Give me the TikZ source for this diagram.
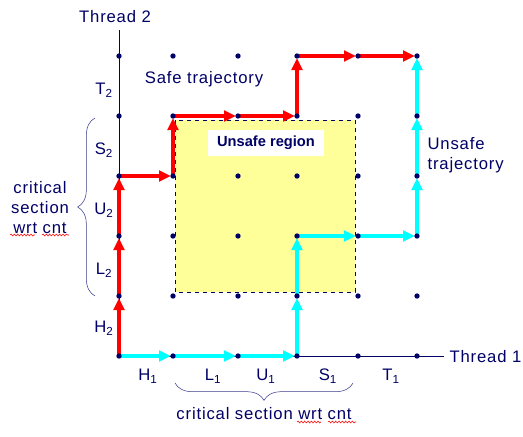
\documentclass[tikz,border=0pt]{standalone}
\usepackage{fontspec}
\setmainfont{Liberation Sans}
\usetikzlibrary{arrows.meta,decorations.pathreplacing,decorations.pathmorphing}
\definecolor{navy}{HTML}{000066}
\definecolor{bracecol}{HTML}{3B3B8F}
\definecolor{unsafecol}{HTML}{FFFF99}
\definecolor{aqua}{HTML}{00FFFF}
\tikzset{
  lbl/.style={text=navy,font=\fontsize{12.5}{15}\selectfont\addfontfeatures{LetterSpace=5},inner sep=1pt},
  safepath/.style={red,line width=3pt,shorten >=1.5pt,-{Triangle[length=9pt,width=8pt]}},
  unsafepath/.style={aqua,line width=3pt,shorten >=1.5pt,-{Triangle[length=9pt,width=8pt]}},
  critbrace/.style={bracecol,thin,decorate,decoration={brace,amplitude=13pt}},
  squiggle/.style={red,line width=0.4pt,decorate,decoration={snake,amplitude=0.7pt,segment length=2.5pt}}
}
\begin{document}
\begin{tikzpicture}[x=0.75pt,y=-0.75pt]
    \useasboundingbox (0,0) rectangle (523,436);

    % Grid points
    \foreach \x [count=\i from 0] in {119,173,238,297,358,417}
      \foreach \y [count=\j from 0] in {356,296,236,176,116,56}
        \coordinate (p\i\j) at (\x,\y);

    % Unsafe region
    \draw[navy,dashed,fill=unsafecol] (175,120) rectangle (355,292);
    \node[fill=white,text=navy,font=\fontsize{11}{13}\selectfont\bfseries,
          minimum width=87pt,minimum height=19pt] (region) at (266,143) {Unsafe region};

    % Axes
    \coordinate (xend) at (444,356);
    \coordinate (yend) at (119,30);
    \draw[navy] (p00) -- (xend);
    \draw[navy] (p00) -- (yend);
    \node[lbl,anchor=west] (thread1) at (448,357) {Thread 1};
    \node[lbl] (thread2) at (115,17) {Thread 2};

    % Safe trajectory
    \foreach \a/\b in {00/01,01/02,02/03,03/13,13/14,14/24,24/34,34/35,35/45,45/55}
      \draw[safepath] (p\a) -- (p\b);

    % Unsafe trajectory
    \foreach \a/\b in {00/10,10/20,20/30,30/31,31/32,32/42,42/52,52/53,53/54,54/55}
      \draw[unsafepath] (p\a) -- (p\b);

    % Dots
    \foreach \i in {0,...,5}
      \foreach \j in {0,...,5}
        \fill[navy] (p\i\j) circle (2pt);

    % Instruction labels
    \node[lbl] (h1) at (148,376) {H\textsubscript{1}};
    \node[lbl] (l1) at (213,376) {L\textsubscript{1}};
    \node[lbl] (u1) at (266,376) {U\textsubscript{1}};
    \node[lbl] (s1) at (328,376) {S\textsubscript{1}};
    \node[lbl] (t1) at (391,376) {T\textsubscript{1}};
    \node[lbl] (h2) at (104,328) {H\textsubscript{2}};
    \node[lbl] (l2) at (104,270) {L\textsubscript{2}};
    \node[lbl] (u2) at (104,210) {U\textsubscript{2}};
    \node[lbl] (s2) at (104,150) {S\textsubscript{2}};
    \node[lbl] (t2) at (104,90) {T\textsubscript{2}};

    % Critical sections
    \draw[critbrace] (95,296) -- (95,118);
    \draw[critbrace] (353,383) -- (175,383);
    \node[lbl,align=center] (critleft) at (40,208) {critical\\section\\wrt cnt};
    \node[lbl] (critbottom) at (264,414) {critical section wrt cnt};
    \draw[squiggle] (10,235) -- (35,235);
    \draw[squiggle] (42,235) -- (69,235);
    \draw[squiggle] (297,422) -- (321,422);
    \draw[squiggle] (328,422) -- (356,422);

    % Trajectory names
    \node[lbl] (safename) at (204,79) {Safe trajectory};
    \node[lbl,anchor=west,align=left] (unsafename) at (426,155) {Unsafe\\trajectory};
\end{tikzpicture}
\end{document}
